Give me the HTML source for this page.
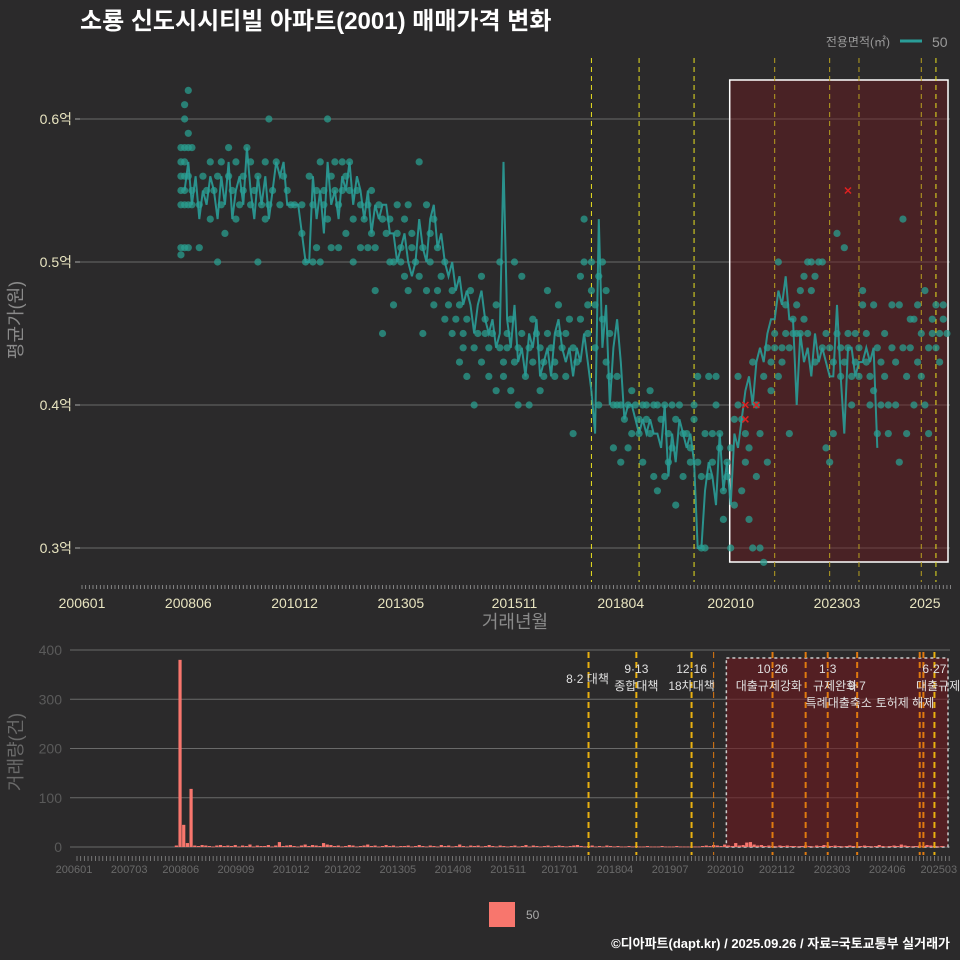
<!DOCTYPE html>
<html><head><meta charset="utf-8">
<style>
html,body{margin:0;padding:0;background:#2b2a2b;}
body{width:960px;height:960px;overflow:hidden;font-family:"Liberation Sans","Noto Sans CJK KR",sans-serif;}
svg{display:block;}
svg text{font-family:"Liberation Sans","Noto Sans CJK KR",sans-serif;}
</style></head>
<body>
<svg id="c" width="960" height="960" xmlns="http://www.w3.org/2000/svg">
<rect x="0" y="0" width="960" height="960" fill="#2b2a2b"/>
<text x="80" y="29" fill="#ffffff" font-size="24" font-weight="bold">소룡 신도시시티빌 아파트(2001) 매매가격 변화</text>
<g>
<text x="890" y="46" fill="#9a9a9a" font-size="12" text-anchor="end">전용면적(㎡)</text>
<line x1="900" y1="41" x2="922" y2="41" stroke="#2a9d98" stroke-width="3"/>
<text x="932" y="47" fill="#9a9a9a" font-size="14">50</text>
</g>
<g id="topg"></g>
<g id="botg"></g>
<g>
<rect x="489" y="902" width="26" height="25" fill="#f8766d"/>
<text x="526" y="919" fill="#aaaaaa" font-size="12">50</text>
</g>
<text x="950" y="948" fill="#ffffff" font-size="13" font-weight="bold" text-anchor="end">©디아파트(dapt.kr) / 2025.09.26 / 자료=국토교통부 실거래가</text>
</svg>
<script>
// ---- data (months since 2006-01) ----
const lineStart = 28;
const lineValues = [0.55,0.57,0.54,0.56,0.53,0.55,0.54,0.56,0.55,0.53,0.56,0.54,0.57,0.53,0.55,0.56,0.54,0.58,0.55,0.53,0.56,
0.54,0.56,0.53,0.55,0.57,0.56,0.57,0.54,0.54,0.54,0.54,0.52,0.50,0.50,
0.56,0.53,0.55,0.52,0.57,0.54,0.55,0.53,0.56,0.55,0.57,0.54,0.56,0.55,0.53,0.55,0.52,
0.54,0.53,0.54,0.54,0.52,0.52,0.50,0.51,0.52,
0.50,0.49,0.50,0.53,0.51,0.50,0.53,0.54,0.51,0.52,0.50,
0.49,0.50,0.48,0.49,0.47,0.48,0.47,0.45,0.47,
0.48,0.46,0.45,0.46,0.44,0.45,0.57,0.46,0.44,
0.47,0.43,0.44,0.42,0.45,0.44,0.46,0.42,0.43,0.44,0.42,0.45,
0.46,0.44,0.43,0.44,0.42,0.44,0.43,0.45,0.43,0.41,0.38,0.53,
0.44,0.47,0.40,0.44,0.46,0.43,0.39,0.40,0.40,0.39,0.38,0.39,0.38,0.39,0.38,0.38,0.37,0.40,0.35,0.38,0.36,0.39,0.38,0.37,0.38,0.36,
0.30,0.30,0.34,0.36,0.35,0.33,0.38,0.34,0.36,0.33,0.38,0.37,0.39,0.41,0.42,0.40,0.43,0.44,0.43,0.45,0.46,0.46,0.48,0.47,0.49,0.46,0.46,0.40,
0.45,0.43,0.44,0.42,0.45,0.43,0.44,0.43,0.42,0.42,0.47,0.42,0.38,0.44,0.44,0.42,0.43,0.43,0.44,0.43,0.44,0.37];
// transaction dots: [month, price]
const dots = [
[27,.505],[27,.51],[27,.54],[27,.55],[27,.56],[27,.57],[27,.58],
[28,.51],[28,.54],[28,.55],[28,.56],[28,.57],[28,.58],[28,.60],[28,.61],
[29,.54],[29,.56],[29,.58],[29,.59],[29,.62],[29,.51],[30,.55],[30,.58],[30,.54],
[32,.54],[32,.51],[33,.56],[34,.55],[35,.53],[35,.57],[36,.55],[37,.56],[37,.50],[38,.54],[38,.57],[39,.52],[40,.58],[40,.56],[41,.55],[42,.53],[42,.57],[43,.54],[44,.56],[44,.55],[45,.58],[46,.57],[46,.54],[47,.55],[48,.56],[48,.50],[49,.54],[50,.53],[50,.57],[51,.54],[51,.60],[52,.55],[53,.57],[54,.54],[55,.56],[56,.55],[57,.54],[58,.54],
[60,.54],[60,.52],[61,.50],[62,.56],[63,.54],[63,.50],[64,.55],[64,.51],[65,.57],[65,.50],[66,.55],[66,.54],[67,.53],[67,.60],[68,.56],[68,.51],[69,.55],[69,.57],[70,.54],[70,.51],[71,.57],[71,.55],[72,.56],[72,.52],[73,.55],[73,.57],[74,.53],[74,.50],[75,.55],[76,.54],[76,.51],[77,.53],[78,.54],[78,.51],[79,.55],[79,.52],[80,.51],[80,.48],[81,.54],[82,.53],[82,.45],[83,.52],[84,.50],[84,.53],[85,.50],[85,.47],[86,.52],[86,.54],[87,.51],[87,.50],[88,.53],[88,.49],[89,.54],[89,.48],[90,.52],[90,.51],[91,.50],[92,.57],[92,.49],[93,.51],[93,.45],[94,.54],[94,.48],[95,.52],[95,.50],[96,.53],[96,.47],[97,.51],[97,.48],[98,.49],[99,.50],[99,.46],[100,.47],[101,.48],[101,.45],[102,.46],[103,.47],[103,.43],[104,.45],[104,.44],[105,.46],[105,.42],[106,.48],[107,.44],[107,.40],[108,.45],[109,.43],[109,.49],[110,.46],[110,.45],[111,.42],[111,.44],[112,.45],[113,.47],[113,.41],[114,.44],[114,.50],[115,.43],[115,.42],[116,.45],[116,.44],[117,.46],[117,.41],[118,.43],[118,.50],[119,.44],[119,.40],[120,.45],[120,.49],[121,.42],[122,.44],[122,.40],[123,.43],[123,.46],[124,.45],[125,.44],[125,.41],[126,.42],[126,.43],[127,.45],[127,.48],[128,.44],[129,.43],[129,.42],[130,.45],[130,.47],[131,.44],[132,.42],[132,.45],[133,.46],[134,.44],[134,.38],[135,.43],[136,.46],[136,.49],[137,.50],[137,.53],[138,.47],[138,.45],[139,.50],[139,.48],[140,.44],[140,.47],[141,.49],[141,.40],[142,.46],[142,.50],[143,.48],[143,.43],[144,.45],[144,.42],[145,.40],[145,.37],[146,.42],[146,.40],[147,.40],[147,.36],[148,.39],[149,.40],[149,.37],[150,.41],[150,.38],[151,.40],[152,.38],[152,.39],[153,.40],[153,.36],[154,.39],[154,.40],[155,.41],[155,.38],[156,.40],[156,.35],[157,.40],[157,.34],[158,.39],[159,.40],[159,.35],[160,.38],[160,.36],[161,.40],[161,.37],[162,.39],[162,.33],[163,.40],[164,.35],[164,.38],[165,.38],[166,.37],[166,.36],[167,.39],[167,.40],[168,.36],[168,.42],[169,.30],[169,.35],[170,.30],[170,.38],[171,.35],[171,.42],[172,.38],[172,.36],[173,.42],[173,.40],[174,.37],[174,.38],[175,.34],[175,.32],[176,.35],[176,.36],[177,.37],[177,.30],[178,.39],[178,.33],[179,.40],[179,.42],[180,.39],[180,.34],[181,.38],[181,.36],[182,.37],[182,.32],[183,.43],[183,.30],[184,.40],[184,.35],[185,.38],[185,.30],[186,.42],[186,.29],[187,.44],[187,.36],[188,.41],[188,.43],[189,.45],[189,.44],[190,.50],[190,.42],[191,.43],[191,.44],[192,.45],[192,.47],[193,.44],[193,.38],[194,.45],[194,.46],[195,.47],[195,.45],[196,.48],[196,.45],[197,.46],[197,.49],[198,.50],[198,.45],[199,.48],[199,.50],[200,.49],[200,.43],[201,.50],[202,.50],[202,.44],[203,.45],[203,.37],[204,.36],[204,.44],[205,.43],[205,.38],[206,.45],[206,.52],[207,.44],[207,.42],[208,.51],[208,.43],[209,.44],[209,.45],[210,.40],[210,.42],[211,.43],[211,.45],[212,.42],[212,.44],[213,.47],[213,.48],[214,.45],[214,.43],[215,.40],[215,.42],[216,.47],[216,.41],[217,.44],[217,.38],[218,.40],[218,.43],[219,.45],[219,.42],[220,.38],[220,.40],[221,.47],[221,.44],[222,.43],[222,.40],[223,.47],[223,.36],[224,.53],[224,.44],[225,.42],[225,.38],[226,.44],[226,.46],[227,.40],[227,.46],[228,.43],[228,.47],[229,.42],[229,.45],[230,.48],[230,.40],[231,.38],[231,.44],[232,.45],[232,.46],[233,.44],[233,.47],[234,.45],[234,.43],[235,.47],[235,.46],[236,.45]];
const crossMonths = [209,181,184,181];
const crossValues = [0.55,0.40,0.40,0.39];
const yTicks = [0.3,0.4,0.5,0.6];
const yTickLabels = ["0.3억","0.4억","0.5억","0.6억"];
const xTickMonths = [0,29,58,87,118,147,177,206,230];
const xTickLabels = ["200601","200806","201012","201305","201511","201804","202010","202303","2025"];
const volumeValues = [0,0,0,0,0,0,0,0,0,0,0,0,0,0,0,0,0,0,0,0,0,0,0,0,0,0,0,3,380,45,8,118,3,2,4,3,2,1,3,4,2,3,2,4,1,3,2,5,1,3,2,2,4,1,3,10,2,3,4,2,1,3,5,2,4,3,2,8,5,4,2,3,1,2,4,3,1,2,3,5,2,3,1,2,4,2,3,1,2,2,3,1,2,4,2,1,3,2,1,4,2,3,1,2,5,2,1,3,2,3,1,2,4,2,1,3,2,1,2,3,1,2,4,1,3,2,1,2,3,1,2,3,2,1,2,3,4,2,1,2,3,1,2,1,3,2,1,2,1,1,2,1,2,1,1,2,1,1,1,2,1,1,1,2,1,1,1,1,1,1,2,3,2,4,3,2,5,3,2,8,3,4,9,10,5,3,4,2,3,2,1,3,2,3,2,2,1,2,3,2,1,3,2,4,3,2,3,2,1,2,3,2,1,2,3,2,1,2,4,2,1,2,3,2,5,3,2,1,2,3,2,4,3,2,1,2];
const volTicks = [0,100,200,300,400];
const volXLabelMonths = [0,15,29,44,59,73,88,103,118,132,147,162,177,191,206,221,235];
const volXLabels = ["200601","200703","200806","200909","201012","201202","201305","201408","201511","201701","201804","201907","202010","202112","202303","202406","202503"];
const topEventMonths = [139,152,167,189,204,212,229,233];
const botEventMonths = [139,152,167,173,189,198,204,212,229,230,233];
const annoLabels = ["8·2 대책","9·13","종합대책","12·16","18차대책","10·26","대출규제강화","1·3","규제완화","9·7","특례대출축소","토허제 해제","6·27","대출규제"];
const annoMonths = [139,152,152,167,167,189,188,204,206,212,207,225,233,234];
const annoRow = [1,0,1,0,1,0,1,0,1,1,2,2,0,1];

const NS="http://www.w3.org/2000/svg";
function mk(parent,tag,attrs){const e=document.createElementNS(NS,tag);for(const k in attrs)e.setAttribute(k,attrs[k]);parent.appendChild(e);return e;}
const tx=m=>82+m*3.665;
const ty=v=>548-(v-0.3)*1430;
const bx=m=>77+m*3.68;
const by=v=>847-v*0.4925;
const topG=document.getElementById('topg');
const botG=document.getElementById('botg');

yTicks.forEach((t,i)=>{
 const g=mk(topG,'line',{x1:80,x2:950,y1:ty(t),y2:ty(t),stroke:'#6a6a6a','stroke-width':1});
 
 
 mk(topG,'line',{x1:75,x2:80,y1:ty(t),y2:ty(t),stroke:'#aaa'});
 const l=mk(topG,'text',{x:72,y:ty(t)+5,fill:'#e8e4c0','font-size':14,'text-anchor':'end'});
 l.textContent=yTickLabels[i];
 
 
});
const reg=mk(topG,'rect',{x:tx(177)-1,y:80,width:948-tx(177)+1,height:482,fill:'rgba(110,25,30,0.45)',stroke:'#ffffff','stroke-width':1.5});


topEventMonths.forEach(m=>{
 const l=mk(topG,'line',{x1:tx(m),x2:tx(m),y1:58,y2:582,stroke:(m>=189&&m<=229)?'#b8a020':'#e8e020','stroke-width':1,'stroke-dasharray':'5,4'});
 
 
});
for(let m=0;m<=237;m++){mk(topG,'line',{x1:tx(m),x2:tx(m),y1:585,y2:589,stroke:'#999','stroke-width':0.8});}
xTickMonths.forEach((m,i)=>{
 const l=mk(topG,'text',{x:tx(m),y:608,fill:'#e8e4c0','font-size':14,'text-anchor':'middle'});
 l.textContent=xTickLabels[i];
 
 
});
let t1=mk(topG,'text',{x:515,y:628,fill:'#8a8a8a','font-size':18,'text-anchor':'middle'});t1.textContent='거래년월';


let t2=mk(topG,'text',{x:0,y:0,fill:'#8a8a8a','font-size':18,'text-anchor':'middle',transform:'translate(22,320) rotate(-90)'});t2.textContent='평균가(원)';


dots.forEach(p=>{
 const c=mk(topG,'circle',{cx:tx(p[0]),cy:ty(p[1]),r:3.6,fill:'#2a9d8f','fill-opacity':0.75});
 
 
});
let d='';lineValues.forEach((v,i)=>{d+=(i?'L':'M')+tx(lineStart+i).toFixed(1)+','+ty(v).toFixed(1);});
const pl=mk(topG,'path',{d:d,fill:'none',stroke:'#2a9d98','stroke-width':2,'stroke-opacity':0.9});


crossMonths.forEach((m,i)=>{
 const x=tx(m),y=ty(crossValues[i]);
 const p=mk(topG,'path',{d:`M${x-3},${y-3}L${x+3},${y+3}M${x-3},${y+3}L${x+3},${y-3}`,stroke:'#e02020','stroke-width':1.5});
 
 
});

volTicks.forEach(t=>{
 const g=mk(botG,'line',{x1:70,x2:950,y1:by(t),y2:by(t),stroke:'#6a6a6a','stroke-width':1});
 
 
 const l=mk(botG,'text',{x:62,y:by(t)+5,fill:'#5a5a5a','font-size':14,'text-anchor':'end'});
 l.textContent=t;
 
 
});
const reg2=mk(botG,'rect',{x:bx(177)-2,y:658,width:948-bx(177)+2,height:189,fill:'rgba(110,25,30,0.6)',stroke:'#cccccc','stroke-width':1.5,'stroke-dasharray':'3,3'});


volumeValues.forEach((v,m)=>{
 if(v<=0)return;
 const r=mk(botG,'rect',{x:bx(m)-1.6,y:by(v),width:3.2,height:Math.max(0.8,v*0.4925),fill:'#f8766d'});
 
 
});
botEventMonths.forEach(m=>{
 const orange=(m>=173&&m<=230);
 const l=mk(botG,'line',{x1:bx(m),x2:bx(m),y1:652,y2:855,stroke:orange?'#e07a10':'#e8b010','stroke-width':m==173?1:2,'stroke-dasharray':'6,4'});
 
 
});
annoLabels.forEach((s,i)=>{
 const l=mk(botG,'text',{x:bx(annoMonths[i]),y:673+annoRow[i]*17,fill:'#e0e0e0','font-size':12,'text-anchor':'middle'});
 if(i==0){l.setAttribute('x',bx(139)-1);l.setAttribute('y',683);}
 l.textContent=s;
 
 
});
for(let m=0;m<=237;m++){mk(botG,'line',{x1:bx(m),x2:bx(m),y1:856,y2:861,stroke:'#888','stroke-width':0.8});}
volXLabelMonths.forEach((m,i)=>{
 const l=mk(botG,'text',{x:bx(m)-3,y:873,fill:'#6a6a6a','font-size':11,'text-anchor':'middle'});
 l.textContent=volXLabels[i];
 
 
});
let t3=mk(botG,'text',{x:0,y:0,fill:'#6a6a6a','font-size':18,'text-anchor':'middle',transform:'translate(22,752) rotate(-90)'});t3.textContent='거래량(건)';


</script>
</body></html>
